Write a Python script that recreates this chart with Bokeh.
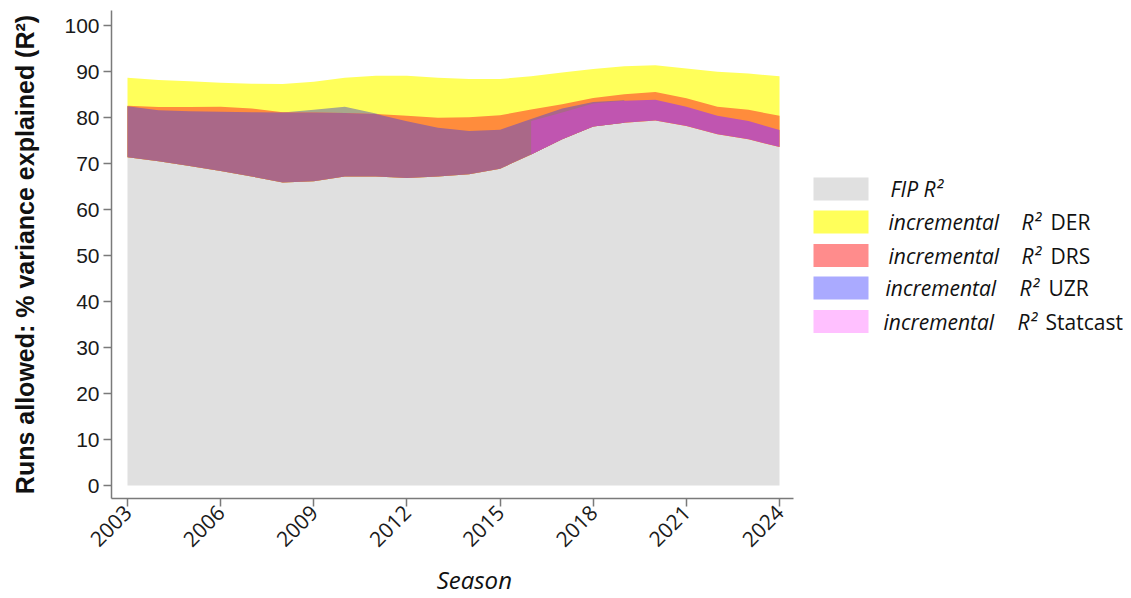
import math
import numpy as np
from bokeh.plotting import figure
from bokeh.layouts import row
from bokeh.models import Range1d, FixedTicker
from bokeh.core.properties import value
from bokeh.embed import file_html
from bokeh.resources import INLINE

# ---- data (percent of variance in runs allowed explained) ----
years = list(range(2003, 2025))
fip_r2 = [71.4, 70.5, 69.5, 68.4, 67.2, 65.9, 66.2, 67.2, 67.2, 66.9, 67.2,
          67.7, 68.9, 72.0, 75.3, 78.1, 78.9, 79.4, 78.2, 76.4, 75.3, 73.6]
inc_der = [17.3, 17.7, 18.4, 19.2, 20.2, 21.4, 21.6, 21.5, 21.9, 22.2, 21.5,
           20.7, 19.5, 17.0, 14.5, 12.5, 12.3, 12.0, 12.5, 13.6, 14.3, 15.4]
inc_drs = [11.2, 11.8, 12.8, 14.0, 14.8, 15.3, 14.9, 13.8, 13.6, 13.5, 12.8,
           12.4, 11.6, 9.8, 7.6, 6.2, 6.2, 6.2, 6.0, 6.0, 6.4, 6.8]
uzr_years = list(range(2003, 2020))
inc_uzr = [11.1, 11.1, 11.9, 12.9, 14.0, 15.2, 15.5, 15.2, 13.7, 12.3, 10.6,
           9.4, 8.5, 7.7, 6.7, 5.3, 4.9]
statcast_years = list(range(2016, 2025))
inc_statcast = [7.3, 5.8, 5.0, 4.8, 4.5, 4.2, 4.0, 4.0, 3.7]

x_ticks = list(range(2003, 2025, 3))
y_ticks = list(range(0, 101, 10))

legend_labels_italic = ["FIP R²", "incremental", "incremental", "incremental", "incremental"]
legend_labels_r2 = ["R²", "R²", "R²", "R²"]
legend_labels_plain = ["DER", "DRS", "UZR", "Statcast"]

# ---- derived arrays ----
fip = np.array(fip_r2)
der = np.array(inc_der)
drs = np.array(inc_drs)
u_idx = [years.index(y) for y in uzr_years]
s_idx = [years.index(y) for y in statcast_years]
fip_u = fip[u_idx]
drs_u = drs[u_idx]
uzr = np.array(inc_uzr)
fip_s = fip[s_idx]
sc = np.array(inc_statcast)

C_GRAY = "#e0e0e0"
C_YEL = "#ffff5a"
C_ORG = "#ff8c3c"
C_OLV = "#a8a88c"
C_MAU = "#aa6888"
C_MAG = "#c055b0"

H = 598
TOP = 10
BOT = 100

p = figure(width=795, height=H, output_backend="svg", toolbar_location=None,
           x_range=Range1d(2002.485, 2024.45), y_range=Range1d(-2.8, 103.3),
           min_border_left=111, min_border_right=2, min_border_top=TOP,
           min_border_bottom=BOT)
p.outline_line_color = None
p.grid.grid_line_color = None

p.varea(x=years, y1=0, y2=fip, fill_color=C_GRAY)
p.varea(x=years, y1=fip, y2=fip + der, fill_color=C_YEL)
p.varea(x=uzr_years, y1=fip_u, y2=fip_u + uzr, fill_color=C_OLV)
p.varea(x=years, y1=fip, y2=fip + drs, fill_color=C_ORG)
p.varea(x=uzr_years, y1=fip_u, y2=fip_u + np.minimum(drs_u, uzr), fill_color=C_MAU)
p.varea(x=statcast_years, y1=fip_s, y2=fip_s + sc, fill_color=C_MAG)

AX = "#7a7a7a"
for ax in (p.xaxis[0], p.yaxis[0]):
    ax.axis_line_color = AX
    ax.axis_line_width = 1.5
    ax.major_tick_line_color = AX
    ax.major_tick_line_width = 1.5
    ax.major_tick_out = 8
    ax.major_tick_in = 0
    ax.minor_tick_line_color = None
    ax.major_label_text_color = "#1a1a1a"
    ax.axis_label_text_color = "#111111"

p.xaxis.ticker = FixedTicker(ticks=x_ticks)
p.xaxis.major_label_orientation = math.pi / 4
p.xaxis.major_label_text_font = "Open Sans"
p.xaxis.major_label_text_font_size = "21px"
p.xaxis.major_label_standoff = 2
p.xaxis.axis_label = "\u00a0" * 7 + "Season"
p.xaxis.axis_label_text_font = "Open Sans"
p.xaxis.axis_label_text_font_style = "italic"
p.xaxis.axis_label_text_font_size = "24px"
p.xaxis.axis_label_standoff = 6

p.yaxis.ticker = FixedTicker(ticks=y_ticks)
p.yaxis.major_label_text_font = "Liberation Sans"
p.yaxis.major_label_text_font_size = "21px"
p.yaxis.major_label_standoff = 4
p.yaxis.axis_label = "Runs allowed: % variance explained (R²)"
p.yaxis.axis_label_text_font = "Liberation Sans"
p.yaxis.axis_label_text_font_style = "bold"
p.yaxis.axis_label_text_font_size = "25px"
p.yaxis.axis_label_standoff = 22

# ---- legend panel (coordinates in page pixels) ----
leg_colors = [C_GRAY, "#ffff5a", "#ff8c8c", "#aaaaff", "#ffc0ff"]
leg_y = [188.5, 221.5, 255, 287.5, 321]
leg_x_it = [890, 888, 888, 885, 883]
leg_x_r2 = [1021, 1021, 1019, 1017]
leg_x_pl = [1050, 1050, 1048, 1045]

lf = figure(width=328, height=H, output_backend="svg", toolbar_location=None,
            x_range=Range1d(795, 1123), y_range=Range1d(498, 10),
            x_axis_type=None, y_axis_type=None,
            min_border_left=0, min_border_right=0, min_border_top=TOP,
            min_border_bottom=BOT)
lf.outline_line_color = None
lf.grid.grid_line_color = None

lf.rect(x=[840.5] * 5, y=leg_y, width=55, height=23, fill_color=leg_colors,
        line_color=None)
lf.text(x=leg_x_it, y=leg_y, text=legend_labels_italic, text_font=value("Open Sans"),
        text_font_style="italic", text_font_size="21px", text_baseline="middle",
        text_color="#111111")
lf.text(x=leg_x_r2, y=leg_y[1:], text=legend_labels_r2, text_font=value("Open Sans"),
        text_font_style="italic", text_font_size="21px", text_baseline="middle",
        text_color="#111111")
lf.text(x=leg_x_pl, y=leg_y[1:], text=legend_labels_plain, text_font=value("Open Sans"),
        text_font_size="21px", text_baseline="middle", text_color="#111111")

layout = row(p, lf)
open("out.html", "w").write(file_html(layout, INLINE))
